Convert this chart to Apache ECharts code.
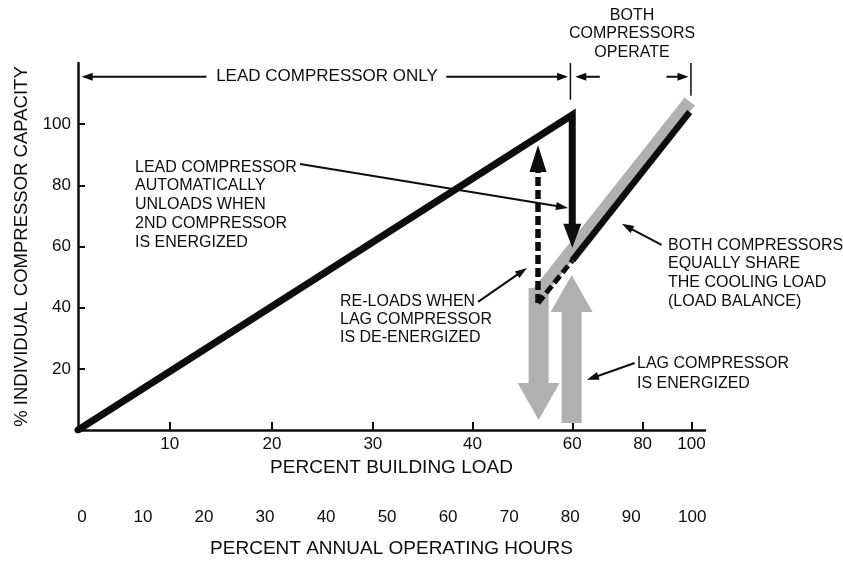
<!DOCTYPE html>
<html>
<head>
<meta charset="utf-8">
<script src="https://cdn.jsdelivr.net/npm/echarts@6/dist/echarts.min.js"></script>
<style>
  html, body { margin: 0; padding: 0; background: #fff; }
  #main { width: 843px; height: 565px; }
</style>
</head>
<body>
<div id="main"></div>
<script>
// x = % annual operating hours, y = % individual compressor capacity
const hoursTicks = [0, 10, 20, 30, 40, 50, 60, 70, 80, 90, 100];
const loadTickLabels = [10, 20, 30, 40, 60, 80, 100];
const loadTickHours = [15.0, 31.7, 48.2, 64.5, 80.8, 92.3, 100.3];
const capacityTicks = [20, 40, 60, 80, 100];

// lead compressor: rises with load, then drops when lag starts
const leadLine = [[0, 0], [80.8, 103], [80.8, 66]];
// both compressors share the load
const sharedLine = [[80.8, 55.4], [100, 104]];
const reloadDashed = [[75.2, 41.5], [80.8, 55.4]];
const lagBand = [[75.4, 45.2], [100, 107.4]];

// gray fat arrows: [x, yFrom, yTo]
const lagArrows = [[75.3, 46.4, 3.3], [80.7, 2.3, 50.7]];

// arrows: [x1, y1, x2, y2, style]
const arrowList = [
  [80.8, 68, 80.8, 59.6, 0],     // unload arrow
  [75.2, 41.5, 75.2, 93.2, 1],   // re-load dashed arrow
  [36.3, 87.0, 80.1, 72.6, 2],   // pointers
  [65.4, 41.9, 73.4, 53.0, 2],
  [95.4, 60.5, 88.9, 67.4, 2],
  [91.0, 21.9, 83.2, 16.4, 2],
  [21.0, 115.5, 0.6, 115.5, 3],  // top brackets
  [60.2, 115.5, 80.1, 115.5, 3],
  [85.3, 115.5, 81.3, 115.5, 3],
  [96.2, 115.5, 99.8, 115.5, 3],
  [80.5, 120, 80.5, 108, 4],
  [100.2, 120, 100.2, 109.3, 4]
];
const arrowStyles = [
  { width: 5, dash: null, head: [18, 24] },
  { width: 5.5, dash: [9, 4], head: [17, 27] },
  { width: 2, dash: null, head: [8, 12] },
  { width: 2, dash: null, head: [8, 11] },
  { width: 1.5, dash: null, head: [0, 0] }
];

const INK = '#0d0d0d';
const GRAY = '#b0b0b0';
const FONT = "'Liberation Sans', Arial, sans-serif";

const chart = echarts.init(document.getElementById('main'));

function renderArrow(params, api) {
  const a = api.coord([api.value(0), api.value(1)]);
  const b = api.coord([api.value(2), api.value(3)]);
  const st = arrowStyles[api.value(4)];
  const dx = b[0] - a[0], dy = b[1] - a[1];
  const len = Math.hypot(dx, dy);
  const ux = dx / len, uy = dy / len;
  const hl = st.head[1], hw = st.head[0] / 2;
  const base = [b[0] - ux * hl, b[1] - uy * hl];
  const end = hl > 0 ? [base[0] + ux * 2, base[1] + uy * 2] : b;
  const children = [{
    type: 'line',
    shape: { x1: a[0], y1: a[1], x2: end[0], y2: end[1] },
    style: { stroke: INK, lineWidth: st.width, lineDash: st.dash, lineCap: 'butt' }
  }];
  if (hl > 0) {
    children.push({
      type: 'polygon',
      shape: { points: [b, [base[0] - uy * hw, base[1] + ux * hw], [base[0] + uy * hw, base[1] - ux * hw]] },
      style: { fill: INK }
    });
  }
  return { type: 'group', children: children };
}

function renderFatArrow(params, api) {
  const a = api.coord([api.value(0), api.value(1)]);
  const b = api.coord([api.value(0), api.value(2)]);
  const dir = b[1] > a[1] ? 1 : -1;
  const sw = 10, hw = 21, hl = 37;
  const baseY = b[1] - dir * hl;
  const x = a[0];
  return {
    type: 'polygon',
    shape: { points: [
      [x - sw, a[1]], [x + sw, a[1]], [x + sw, baseY], [x + hw, baseY],
      [x, b[1]], [x - hw, baseY], [x - sw, baseY]
    ] },
    style: { fill: GRAY }
  };
}

function textEl(text, x, y, opts) {
  return {
    type: 'text', x: x, y: y, z: 100,
    style: Object.assign({
      text: text, fill: INK, font: '16px ' + FONT,
      lineHeight: 18.7, verticalAlign: 'top', align: 'left'
    }, opts || {})
  };
}

const option = {
  animation: false,
  backgroundColor: '#fff',
  grid: { left: 78, right: 138, top: 63, bottom: 135 },
  xAxis: [
    {
      type: 'value', min: 0, max: 102.5, position: 'bottom',
      axisLine: { lineStyle: { color: INK, width: 2.5 } },
      axisTick: { inside: true, length: 8, lineStyle: { color: INK, width: 2 }, customValues: loadTickHours },
      axisLabel: {
        customValues: loadTickHours, margin: 6, color: INK, fontSize: 17, fontFamily: FONT,
        formatter: function (v) {
          let best = 0;
          loadTickHours.forEach(function (h, i) { if (Math.abs(h - v) < Math.abs(loadTickHours[best] - v)) best = i; });
          return String(loadTickLabels[best]);
        }
      },
      splitLine: { show: false },
      name: 'PERCENT BUILDING LOAD', nameLocation: 'middle', nameGap: 28,
      nameTextStyle: { color: INK, fontSize: 19, fontFamily: FONT }
    },
    {
      type: 'value', min: -0.66, max: 102.1, position: 'bottom', offset: 72,
      axisLine: { show: false }, axisTick: { show: false },
      axisLabel: { customValues: hoursTicks, margin: 7, color: INK, fontSize: 17, fontFamily: FONT },
      splitLine: { show: false },
      name: 'PERCENT ANNUAL OPERATING HOURS', nameLocation: 'middle', nameGap: 37,
      nameTextStyle: { color: INK, fontSize: 19, fontFamily: FONT }
    }
  ],
  yAxis: {
    type: 'value', min: 0, max: 120, interval: 20,
    axisLine: { lineStyle: { color: INK, width: 2.5 } },
    axisTick: { inside: true, length: 7, lineStyle: { color: INK, width: 2 }, customValues: capacityTicks },
    axisLabel: { customValues: capacityTicks, margin: 7, color: INK, fontSize: 17, fontFamily: FONT },
    splitLine: { show: false },
    name: '% INDIVIDUAL COMPRESSOR CAPACITY', nameLocation: 'middle', nameRotate: 90, nameGap: 45,
    nameTextStyle: { color: INK, fontSize: 18.5, fontFamily: FONT }
  },
  series: [
    {
      type: 'custom', name: 'lag arrows', z: 1, clip: false,
      encode: { x: 0, y: [1, 2] },
      renderItem: renderFatArrow, data: lagArrows
    },
    {
      type: 'line', name: 'lag band', z: 2, data: lagBand, symbol: 'none',
      lineStyle: { color: GRAY, width: 13, cap: 'butt' }
    },
    {
      type: 'custom', name: 'arrows', z: 3, clip: false,
      encode: { x: [0, 2], y: [1, 3] },
      renderItem: renderArrow, data: arrowList
    },
    {
      type: 'line', name: 'lead', z: 4, data: leadLine, symbol: 'none',
      lineStyle: { color: INK, width: 7, join: 'miter', cap: 'round' }
    },
    {
      type: 'line', name: 'shared', z: 4, data: sharedLine, symbol: 'none',
      lineStyle: { color: INK, width: 6.5, cap: 'butt' }
    },
    {
      type: 'line', name: 'reload', z: 4, data: reloadDashed, symbol: 'none',
      lineStyle: { color: INK, width: 5, type: [9, 4], cap: 'butt' }
    }
  ],
  graphic: [
    textEl('BOTH\nCOMPRESSORS\nOPERATE', 632, 6, { align: 'center', lineHeight: 18.5 }),
    textEl('LEAD COMPRESSOR ONLY', 327, 67, { align: 'center', font: '17px ' + FONT }),
    textEl('LEAD COMPRESSOR\nAUTOMATICALLY\nUNLOADS WHEN\n2ND COMPRESSOR\nIS ENERGIZED', 135, 158),
    textEl('RE-LOADS WHEN\nLAG COMPRESSOR\nIS DE-ENERGIZED', 340, 293, { lineHeight: 18 }),
    textEl('BOTH COMPRESSORS\nEQUALLY SHARE\nTHE COOLING LOAD\n(LOAD BALANCE)', 668, 236),
    textEl('LAG COMPRESSOR\nIS ENERGIZED', 637, 354, { lineHeight: 20 })
  ]
};

chart.setOption(option);
</script>
</body>
</html>
